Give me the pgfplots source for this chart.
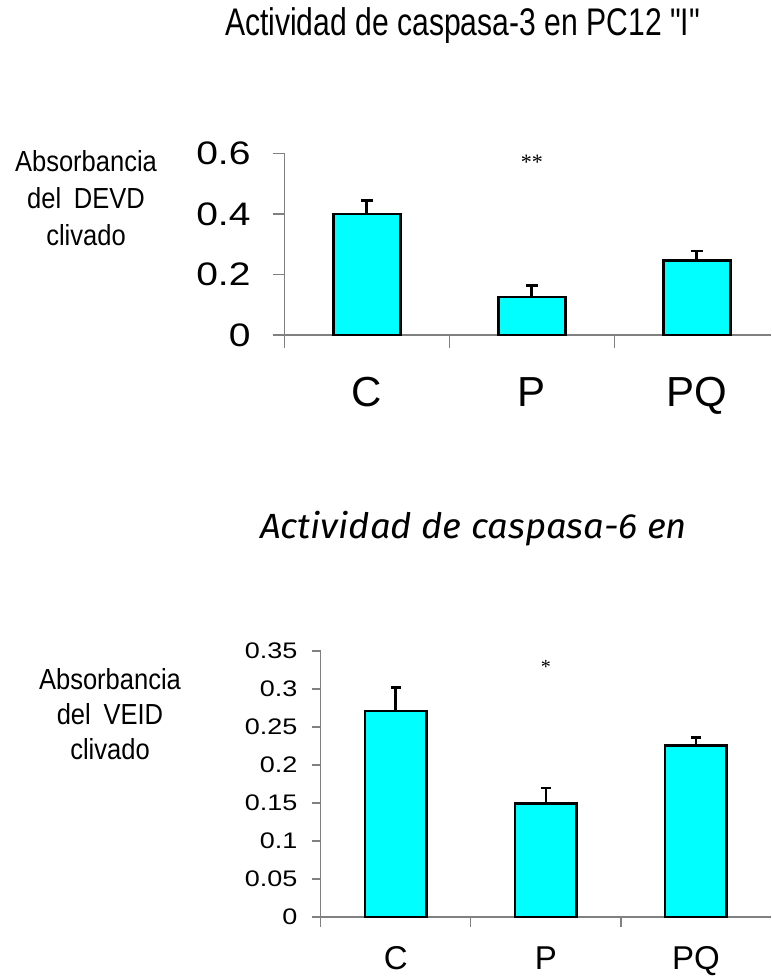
\documentclass[border=0pt]{standalone}
\usepackage{fontspec}
\setmainfont{Liberation Sans}
\newfontfamily\titlefont{Liberation Sans}
\newfontfamily\seriffont{Liberation Serif}
\newfontfamily\handfont{Fira Sans}
\usepackage{pgfplots}
\pgfplotsset{compat=1.18}
\definecolor{barcyan}{RGB}{0,255,255}
\definecolor{axisgray}{RGB}{128,128,128}

\pgfplotsset{
  caspbars/.style={
    scale only axis,
    axis x line=bottom, axis y line=left,
    axis line style={-, draw=axisgray, line width=1.3pt},
    tick align=outside,
    tick style={draw=axisgray, line width=1.3pt},
    major x tick style={draw=none},
    xtick={0,1,2}, xticklabels={C,P,PQ},
    minor xtick={-0.5,0.5,1.5},
    xmin=-0.5, ymin=0,
    ybar, clip=false,
    scaled y ticks=false,
    /pgf/number format/.cd, fixed, precision=2, assume math mode=true,
  },
}

\begin{document}
\begin{tikzpicture}[x=1pt,y=1pt]
\useasboundingbox (0pt,0pt) rectangle (771pt,977pt);

% chart titles
\node[anchor=base, inner sep=0] at (462.5pt,941pt)
  {\resizebox{475pt}{\height}{\fontsize{38.5}{40}\titlefont Actividad de caspasa-3 en PC12 "I"}};
\node[anchor=base, inner sep=0] at (473.5pt,438.7pt)
  {\resizebox{427pt}{\height}{\fontsize{35}{40}\handfont\itshape Actividad de caspasa-6 en}};

% y-axis captions
\node[inner sep=0] at (86pt,776pt)
  {\scalebox{0.88}[1]{\fontsize{29}{37}\selectfont\begin{tabular}{@{}c@{}}Absorbancia\\del\enspace DEVD\\clivado\end{tabular}}};
\node[inner sep=0] at (110pt,259pt)
  {\scalebox{0.88}[1]{\fontsize{29}{35}\selectfont\begin{tabular}{@{}c@{}}Absorbancia\\del\enspace VEID\\clivado\end{tabular}}};

% caspase-3 (DEVD)
\begin{axis}[caspbars,
  at={(284.3pt,642pt)}, anchor=south west,
  width=486.7pt, height=181.7pt,
  xmax=2.45, ymax=0.6,
  ytick={0,0.2,0.4,0.6},
  major tick length=11.6pt, minor tick length=13pt,
  bar width=0.406,
  yticklabel={\scalebox{1.2}[1]{\pgfmathprintnumber{\tick}}},
  yticklabel style={font=\fontsize{32.5}{34}\selectfont, anchor=east, inner sep=0pt, xshift=-22pt},
  xticklabel style={font=\fontsize{42}{44}\selectfont, anchor=base, yshift=-60pt},
]
\addplot[fill=barcyan, draw=black, line width=2.6pt,
  error bars/.cd, y dir=plus, y explicit,
  error bar style={line width=2.6pt, black},
  error mark options={rotate=90, mark size=6pt, line width=2.6pt, black}]
  coordinates {(0,0.400) +- (0,0.045) (1,0.126) +- (0,0.038) (2,0.245) +- (0,0.033)};
\node[anchor=base, inner sep=0, font=\seriffont\fontsize{22}{22}\selectfont] at (axis cs:1,0.545) {**};
\end{axis}

% caspase-6 (VEID)
\begin{axis}[caspbars,
  at={(320.7pt,60pt)}, anchor=south west,
  width=450.3pt, height=266pt,
  xmax=2.5, ymax=0.35,
  ytick={0,0.05,0.1,0.15,0.2,0.25,0.3,0.35},
  major tick length=9pt, minor tick length=10pt,
  bar width=0.41,
  yticklabel={\scalebox{1.2}[1]{\pgfmathprintnumber{\tick}}},
  yticklabel style={font=\fontsize{22.5}{24}\selectfont, anchor=east, inner sep=0pt, xshift=-14pt},
  xticklabel style={font=\fontsize{33}{35}\selectfont, anchor=base, yshift=-43pt},
]
\addplot[fill=barcyan, draw=black, line width=2.6pt,
  error bars/.cd, y dir=plus, y explicit,
  error bar style={line width=2.6pt, black},
  error mark options={rotate=90, mark size=5pt, line width=2.6pt, black}]
  coordinates {(0,0.271) +- (0,0.031) (1,0.149) +- (0,0.021) (2,0.2255) +- (0,0.011)};
\node[anchor=base, inner sep=0, font=\seriffont\fontsize{20}{20}\selectfont] at (axis cs:1,0.321) {*};
\end{axis}
\end{tikzpicture}
\end{document}
